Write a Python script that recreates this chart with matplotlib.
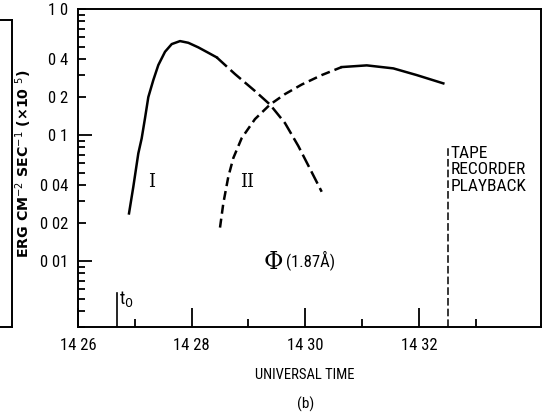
"""
X-ray flux, panel (b)
"""

import matplotlib
matplotlib.use('Agg')
from matplotlib import pyplot as plt
from matplotlib.lines import Line2D
from matplotlib.ticker import FixedLocator, NullFormatter

NARROW = ['Liberation Sans Narrow', 'Roboto Condensed', 'DejaVu Sans Condensed', 'Roboto']

# curve I, solid then dashed (minutes after 14:00, flux x1e5)
t_I_solid = [26.898, 26.974, 27.062, 27.121, 27.180, 27.238, 27.326, 27.414,
             27.532, 27.650, 27.796, 27.942, 28.118, 28.294, 28.442]
v_I_solid = [0.0239, 0.0389, 0.0716, 0.0941, 0.1364, 0.2002, 0.2732, 0.3594,
             0.4583, 0.5274, 0.557, 0.540, 0.4966, 0.4499, 0.4137]
t_I_dash = [28.442, 28.764, 29.116, 29.380, 29.644, 29.879, 30.114, 30.290]
v_I_dash = [0.4137, 0.3049, 0.2236, 0.1746, 0.1245, 0.0818, 0.0508, 0.0355]

# curve II, dashed then solid
t_II_dash = [28.500, 28.558, 28.646, 28.734, 28.882, 29.116, 29.380, 29.644,
             29.938, 30.290, 30.643]
v_II_dash = [0.01845, 0.0287, 0.0467, 0.0657, 0.0947, 0.134, 0.1746, 0.2115,
             0.2517, 0.2993, 0.3466]
t_II_solid = [30.643, 31.083, 31.551, 31.963, 32.431]
v_II_solid = [0.3466, 0.3574, 0.3383, 0.2993, 0.2572]

t0 = 26.687
t_playback = 32.514

ytick_vals = [0.01, 0.02, 0.04, 0.1, 0.2, 0.4, 1.0]
ytick_labels = ['0 01', '0 02', '0 04', '0 1', '0 2', '0 4', '1 0']
xtick_vals = [26, 28, 30, 32]
xtick_labels = ['14 26', '14 28', '14 30', '14 32']


def plot():
    fig = plt.figure(figsize=(5.5, 4.12), dpi=100)
    ax = fig.add_axes([0.1418, 0.2063, 0.9836 - 0.1418, 0.978 - 0.2063])
    ymin, ymax = 0.003, 1.0

    ax.plot(t_I_solid, v_I_solid, color='black', lw=1.8, solid_joinstyle='round')
    ax.plot(t_I_dash, v_I_dash, color='black', lw=1.8, dashes=(5.5, 2))
    ax.plot(t_II_dash, v_II_dash, color='black', lw=1.8, dashes=(3.6, 2))
    ax.plot(t_II_solid, v_II_solid, color='black', lw=1.8, solid_joinstyle='round')

    ax.plot([t0, t0], [ymin, 0.00557], color='black', lw=1.2)
    ax.text(t0 + 0.04, 0.0060, 't$_0$', fontsize=13, va='top', ha='left',
            family=NARROW)
    ax.plot([t_playback, t_playback], [ymin, 0.0788], color='black', lw=1.1,
            dashes=(5, 2))
    ax.text(t_playback + 0.05, 0.082, 'TAPE\nRECORDER\nPLAYBACK', fontsize=12.5,
            va='top', ha='left', family=NARROW, linespacing=1.12)

    ax.text(27.30, 0.0426, 'I', fontsize=13, family='DejaVu Serif',
            ha='center', va='center')
    ax.text(28.98, 0.0426, 'II', fontsize=13, family='DejaVu Serif',
            ha='center', va='center')
    ax.text(29.43, 0.0098, 'Φ', fontsize=17, family='DejaVu Serif',
            ha='center', va='center')
    ax.text(29.66, 0.0101, '(1.87Å)', fontsize=12, family=NARROW,
            ha='left', va='center')

    ax.set_yscale('log')
    ax.set_ylim(ymin, ymax)
    ax.set_xlim(26, 34.15)

    ax.yaxis.set_major_locator(FixedLocator(ytick_vals))
    ax.set_yticklabels(ytick_labels, family=NARROW, fontsize=12)
    minors = [m * d for d in (0.001, 0.01, 0.1) for m in range(2, 10)
              if m * d >= 0.003 and round(m * d, 4) not in ytick_vals]
    ax.yaxis.set_minor_locator(FixedLocator(minors))
    ax.yaxis.set_minor_formatter(NullFormatter())

    ax.xaxis.set_major_locator(FixedLocator(xtick_vals))
    ax.set_xticklabels(xtick_labels, family=NARROW, fontsize=12)
    ax.xaxis.set_minor_locator(FixedLocator([27, 29, 31, 33]))

    ax.tick_params(which='both', direction='in', top=False, right=False,
                   width=1.3)
    ax.tick_params(axis='x', which='major', length=13.5, pad=8)
    ax.tick_params(axis='y', which='major', pad=7)
    ax.tick_params(axis='x', which='minor', length=5.5)
    ax.tick_params(axis='y', which='major', length=5.5)
    ax.tick_params(axis='y', which='minor', length=5)
    for tick, val in zip(ax.yaxis.get_major_ticks(), ytick_vals):
        if val in (0.01, 0.1):
            tick.tick1line.set_markersize(10)

    for s in ax.spines.values():
        s.set_linewidth(1.4)

    ax.set_xlabel('UNIVERSAL TIME', family=NARROW, fontsize=10.5)
    ax.xaxis.set_label_coords(0.49, -0.128)
    ax.set_ylabel('ERG CM$^{-2}$ SEC$^{-1}$ (×10 $^{5}$)', fontsize=10.2,
                  fontweight='bold')
    ax.yaxis.set_label_coords(-0.094, 0.513)

    fig.text(0.555, 0.018, '(b)', family=NARROW, fontsize=11,
             ha='center', va='center')

    # edge of neighbouring panel (a)
    for xs, ys in (([0, 12], [20, 20]), ([12, 12], [20, 327]), ([0, 12], [327, 327])):
        fig.add_artist(Line2D([x / 550 for x in xs], [1 - y / 412 for y in ys],
                              color='black', lw=1.4, transform=fig.transFigure))

    plt.savefig('out.png', dpi=100)


if __name__ == '__main__':
    plot()
